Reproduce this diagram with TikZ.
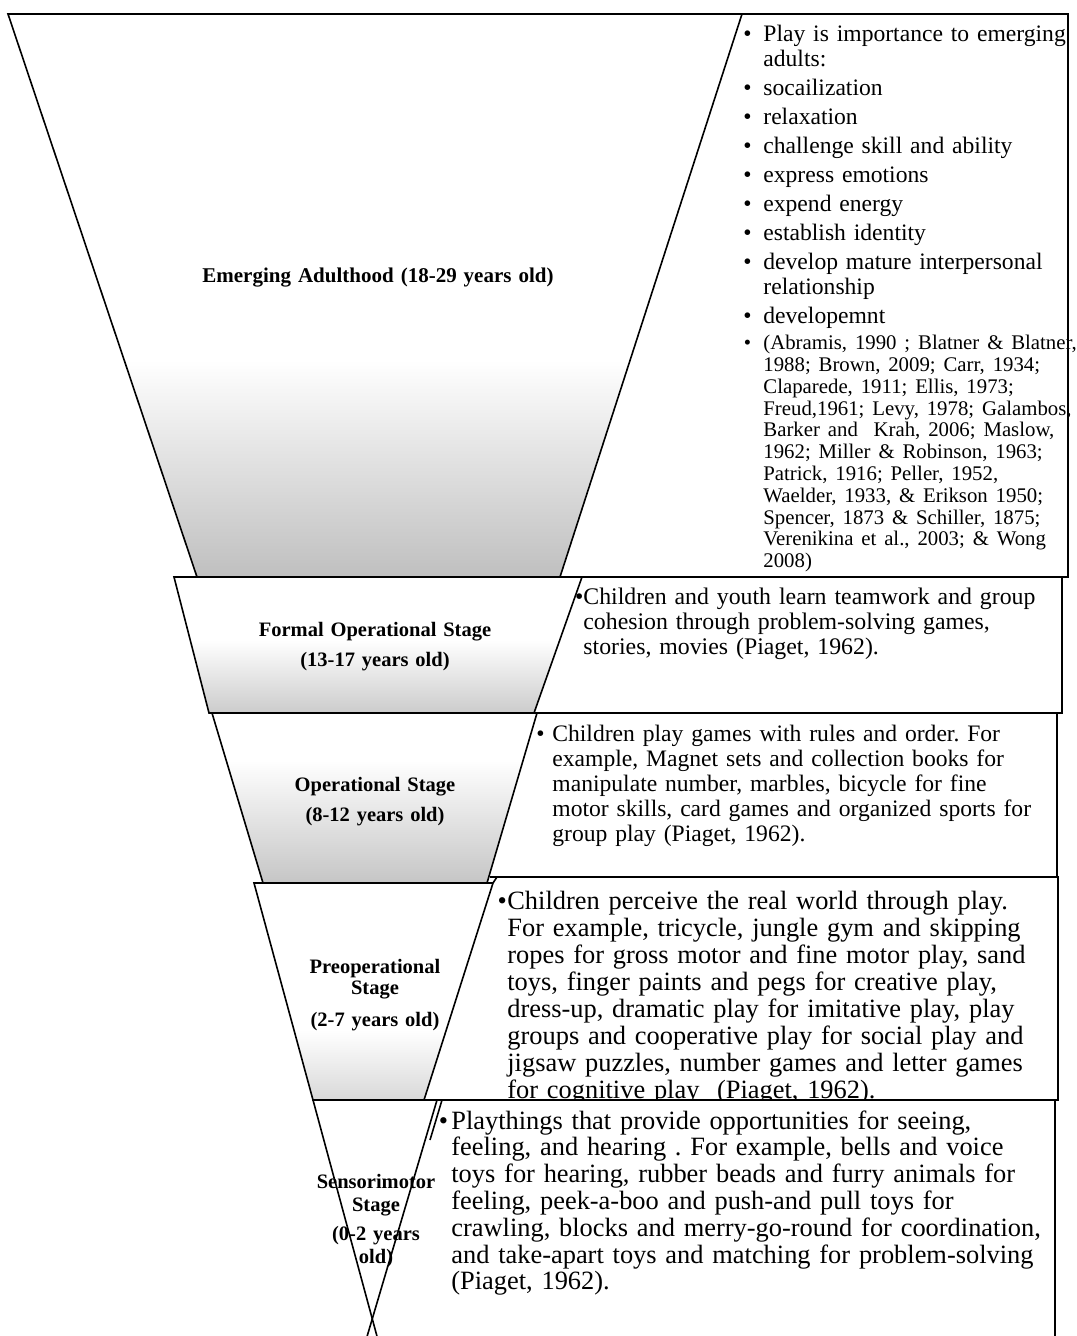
\documentclass[tikz,border=0pt]{standalone}
\usepackage{fontspec}
\setmainfont{Liberation Serif}
\frenchspacing
\newcommand{\bul}[1]{\leavevmode\llap{\textbullet\hspace{#1}}}
\tikzset{
  edge/.style={line width=0.8pt},
  agelabel/.style={font=\bfseries\fontsize{10.25}{10.5}\selectfont, align=center, text width=150pt, inner sep=0pt, anchor=base},
  playtext/.style={align=left, text width=300pt, inner sep=0pt, anchor=base west},
}
\begin{document}
\begin{tikzpicture}[x=0.5pt, y=-0.5pt]
\useasboundingbox (0,0) rectangle (1076,1336);
% grey shading at the foot of each stage
\begin{scope}
  \clip (8,14) -- (742,14) -- (560,577) -- (197,577) -- cycle;
  \shade[top color=white, middle color=gray!22, bottom color=gray!50] (0,360) rectangle (760,577);
\end{scope}
\begin{scope}
  \clip (174,577) -- (582,577) -- (534,713) -- (209,713) -- cycle;
  \shade[top color=white, bottom color=gray!40] (150,640) rectangle (600,713);
\end{scope}
\begin{scope}
  \clip (212,713) -- (537,713) -- (487,883) -- (263,883) -- cycle;
  \shade[top color=white, middle color=gray!15, bottom color=gray!45] (200,760) rectangle (560,883);
\end{scope}
\begin{scope}
  \clip (254,883) -- (493,883) -- (424,1100) -- (313,1100) -- cycle;
  \shade[top color=white, bottom color=gray!30] (240,1030) rectangle (500,1100);
\end{scope}
% emerging adulthood
\draw[edge] (8,14) -- (742,14) -- (560,577) -- (197,577) -- cycle;
\draw[edge] (742,14) -- (1068,14) -- (1068,577) -- (560,577);
\node[agelabel, font=\bfseries\fontsize{10.5}{11}\selectfont, text width=190pt] (adultlabel) at (378,283) {Emerging Adulthood (18-29 years old)};
\node[playtext, font=\fontsize{11.8}{12.5}\selectfont] (adulttext) at (763,42) {\setlength{\parskip}{2pt}%
\bul{5.9pt}Play is importance to emerging\\adults:\par
\bul{5.9pt}socailization\par
\bul{5.9pt}relaxation\par
\bul{5.9pt}challenge skill and ability\par
\bul{5.9pt}express emotions\par
\bul{5.9pt}expend energy\par
\bul{5.9pt}establish identity\par
\bul{5.9pt}develop mature interpersonal\\relationship\par
\bul{5.9pt}developemnt\par
{\fontsize{10.4}{10.9}\selectfont\bul{6.1pt}(Abramis, 1990 ; Blatner \& Blatner,\\
1988; Brown, 2009; Carr, 1934;\\
Claparede, 1911; Ellis, 1973;\\
Freud,1961; Levy, 1978; Galambos,\\
Barker and~ Krah, 2006; Maslow,\\
1962; Miller \& Robinson, 1963;\\
Patrick, 1916; Peller, 1952,\\
Waelder, 1933, \& Erikson 1950;\\
Spencer, 1873 \& Schiller, 1875;\\
Verenikina et al., 2003; \& Wong\\
2008)\par}};
% formal operational
\draw[edge] (174,577) -- (582,577) -- (534,713) -- (209,713) -- cycle;
\draw[edge] (582,577) -- (1062,577) -- (1062,713) -- (534,713);
\node[agelabel] (formallabel) at (375,636) {Formal Operational Stage\\[4.5pt](13-17 years old)};
\node[playtext, font=\fontsize{11.9}{12.5}\selectfont] (formaltext) at (583,604) {\bul{0pt}Children and youth learn teamwork and group\\
cohesion through problem-solving games,\\
stories, movies (Piaget, 1962).};
% operational
\draw[edge] (212,713) -- (537,713) -- (487,883) -- (263,883) -- cycle;
\draw[edge] (537,713) -- (1057,713) -- (1057,877) -- (490,877);
\node[agelabel] (oplabel) at (375,791) {Operational Stage\\[4.5pt](8-12 years old)};
\node[playtext, font=\fontsize{11.8}{12.5}\selectfont] (optext) at (552,741) {\bul{3.9pt}Children play games with rules and order. For\\
example, Magnet sets and collection books for\\
manipulate number, marbles, bicycle for fine\\
motor skills, card games and organized sports for\\
group play (Piaget, 1962).};
% preoperational
\draw[edge] (254,883) -- (493,883) -- (424,1100) -- (313,1100) -- cycle;
\draw[edge] (493,883) -- (497,877) -- (1058,877) -- (1058,1100) -- (424,1100);
\node[agelabel] (preoplabel) at (375,973) {Preoperational\\Stage\\[5.5pt](2-7 years old)};
\node[playtext, font=\fontsize{13.2}{13.5}\selectfont] (preoptext) at (507,909) {\bul{0.3pt}Children perceive the real world through play.\\
For example, tricycle, jungle gym and skipping\\
ropes for gross motor and fine motor play, sand\\
toys, finger paints and pegs for creative play,\\
dress-up, dramatic play for imitative play, play\\
groups and cooperative play for social play and\\
jigsaw puzzles, number games and letter games\\
for cognitive play~ (Piaget, 1962).};
% sensorimotor
\fill[white] (440,1101) rectangle (1054,1120);
\draw[edge] (430,1140) -- (442,1100) -- (1055,1100) -- (1055,1336);
\draw[edge] (313,1100) -- (437,1100) -- (366,1340);
\draw[edge] (313,1100) -- (378,1340);
\node[agelabel, font=\bfseries\fontsize{10.25}{11.5}\selectfont] (sensolabel) at (376,1188) {Sensorimotor\\Stage\\[3pt](0-2 years\\old)};
\node[playtext, font=\fontsize{13.2}{13.4}\selectfont] (sensotext) at (451,1129) {\bul{1.7pt}Playthings that provide opportunities for seeing,\\
feeling, and hearing . For example, bells and voice\\
toys for hearing, rubber beads and furry animals for\\
feeling, peek-a-boo and push-and pull toys for\\
crawling, blocks and merry-go-round for coordination,\\
and take-apart toys and matching for problem-solving\\
(Piaget, 1962).};
\end{tikzpicture}
\end{document}
